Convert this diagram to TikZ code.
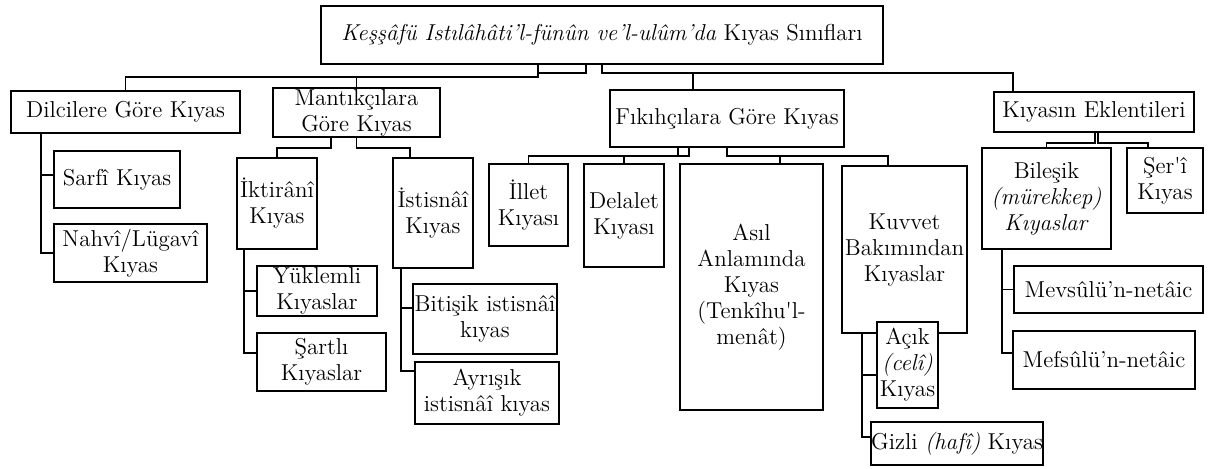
\documentclass[tikz,border=0pt]{standalone}
\usepackage{tikz}
\tikzset{
  kutu/.style = {draw=black, line width=0.9pt, fill=white, align=center,
    inner sep=0pt, font=\fontsize{11.5}{13}\selectfont},% kutu
  baglanti/.style = {draw=black, line width=0.8pt}% dirsek baglanti
}

\begin{document}
\begin{tikzpicture}[x=0.5pt,y=-0.5pt]
\useasboundingbox (0,0) rectangle (1208,468);
% ana baslik
\node [kutu, minimum width=281pt, minimum height=29pt] (title) at (602,35)
  {{\itshape Keşşâfü Istılâhâti’l-fünûn ve’l-ulûm’da} Kıyas Sınıfları};
% birinci seviye
\node [kutu, minimum width=114.5pt, minimum height=21pt] (dil) at (125.5,112) {Dilcilere Göre Kıyas};
\node [kutu, minimum width=83.5pt, minimum height=24.5pt] (mant) at (356.5,112.5) {Mantıkçılara\\Göre Kıyas};
\node [kutu, minimum width=117pt, minimum height=28.5pt] (fik) at (727,118.5) {Fıkıhçılara Göre Kıyas};
\node [kutu, minimum width=100pt, minimum height=20pt] (ekl) at (1094,112) {Kıyasın Eklentileri};
% dilciler
\node [kutu, minimum width=63pt, minimum height=28.5pt] (sarf) at (117,179.5) {Sarfî Kıyas};
\node [kutu, minimum width=76.5pt, minimum height=29pt] (nahv) at (130.5,253) {Nahvî/Lügavî\\Kıyas};
% mantikcilar
\node [kutu, minimum width=40pt, minimum height=45.5pt] (ikt) at (277,203.5) {İktirânî\\Kıyas};
\node [kutu, minimum width=40pt, minimum height=55pt] (ist) at (433,213) {İstisnâî\\Kıyas};
\node [kutu, minimum width=60pt, minimum height=25pt] (yuk) at (317,291) {Yüklemli\\Kıyaslar};
\node [kutu, minimum width=64.5pt, minimum height=29pt] (sart) at (321.5,362) {Şartlı\\Kıyaslar};
\node [kutu, minimum width=72pt, minimum height=35pt] (bit) at (485,319) {Bitişik istisnâî\\kıyas};
\node [kutu, minimum width=72pt, minimum height=31pt] (ayr) at (487,393) {Ayrışık\\istisnâî kıyas};
% fikihcilar
\node [kutu, minimum width=39.5pt, minimum height=41pt] (ill) at (528.5,205) {İllet\\Kıyası};
\node [kutu, minimum width=40pt, minimum height=51.5pt] (del) at (624,215.5) {Delalet\\Kıyası};
\node [kutu, minimum width=71.5pt, minimum height=123pt] (asil) at (751.5,287)
  {Asıl\\Anlamında\\Kıyas\\(Tenkîhu\textquotesingle l-\\menât)};
\node [kutu, minimum width=62.5pt, minimum height=83.5pt] (kuv) at (904.5,249.5) {Kuvvet\\Bakımından\\Kıyaslar};
\node [kutu, minimum width=30.5pt, minimum height=43pt] (acik) at (907.5,365) {Açık\\\textit{(celî)}\\Kıyas};
\node [kutu, minimum width=85pt, minimum height=21.5pt] (gizli) at (957,443.5) {Gizli \textit{(hafî)} Kıyas};
% eklentiler
\node [kutu, minimum width=64.5pt, minimum height=50.5pt] (bil) at (1046.5,198.5) {Bileşik\\\textit{(mürekkep)}\\\textit{Kıyaslar}};
\node [kutu, minimum width=38pt, minimum height=32.5pt] (ser) at (1165,180.5) {Şer\textquotesingle î\\Kıyas};
\node [kutu, minimum width=94.5pt, minimum height=23.5pt] (mev) at (1108.5,289.5) {Mevsûlü’n-netâic};
\node [kutu, minimum width=91pt, minimum height=29pt] (mef) at (1104,360) {Mefsûlü’n-netâic};

% baglantilar
\coordinate (busL) at (538,77);
\coordinate (busR) at (602,73);
\draw [baglanti] (title.south -| busL) -- (busL) -| (dil.north);
\draw [baglanti] (busL) -| (mant.north);
\draw [baglanti] ([xshift=-8pt]title.south) -- ++(0,-4pt) -| (busL);
\draw [baglanti] (title.south) -- (busR) -| ([xshift=-17pt]fik.north);
\draw [baglanti] (busR) -| ([xshift=-40.5pt]ekl.north);

\draw [baglanti] ([xshift=15.5pt]dil.south west) |- ([yshift=2.25pt]sarf.west);
\draw [baglanti] ([xshift=15.5pt]dil.south west) |- (nahv.west);

\draw [baglanti] ([xshift=-12.75pt]mant.south) -- ++(0,-5pt) -| (ikt.north);
\draw [baglanti] (mant.south) -- ++(0,-5pt) -| ([xshift=-11.5pt]ist.north);
\draw [baglanti] ([xshift=4pt]ikt.south west) |- (yuk.west);
\draw [baglanti] ([xshift=4pt]ikt.south west) |- ([yshift=4.5pt]sart.west);
\draw [baglanti] ([xshift=4.5pt]ist.south west) |- ([yshift=5.5pt]bit.west);
\draw [baglanti] ([xshift=4.5pt]ist.south west) |- ([yshift=11pt]ayr.west);

\draw [baglanti] ([xshift=-24.5pt]fik.south) -- ++(0,-4pt) -| (ill.north);
\draw [baglanti] ([xshift=-19pt]fik.south) -- ++(0,-4pt) -| (del.north);
\draw [baglanti] (fik.south) -- ++(0,-4pt) -| ([xshift=14.25pt]asil.north);
\draw [baglanti] (fik.south) -- ++(0,-4pt) -| ([xshift=-8.25pt]kuv.north);
\draw [baglanti] ([xshift=10.5pt]kuv.south west) |- ([yshift=-5pt]acik.west);
\draw [baglanti] ([xshift=10.5pt]kuv.south west) |- ([yshift=3.25pt]gizli.west);

\draw [baglanti] ([xshift=0.5pt]ekl.south) -- ++(0,-5pt) -| (bil.north);
\draw [baglanti] ([xshift=2pt]ekl.south) -- ++(0,-5pt) -| ([xshift=-8.5pt]ser.north);
\draw [baglanti] ([xshift=10.5pt]bil.south west) |- (mev.west);
\draw [baglanti] ([xshift=10.5pt]bil.south west) |- ([yshift=3.5pt]mef.west);
\end{tikzpicture}
\end{document}
